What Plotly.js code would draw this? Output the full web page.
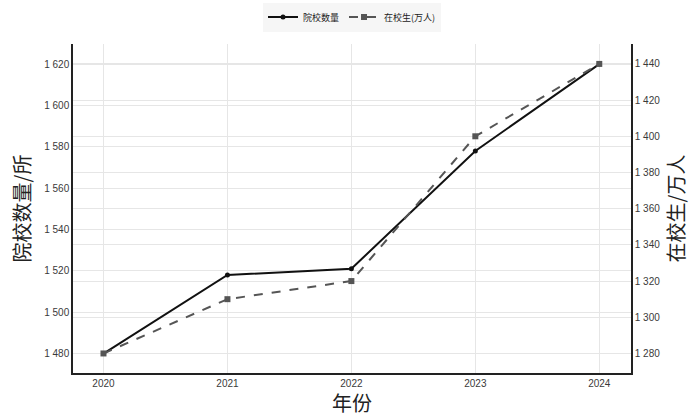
<!DOCTYPE html>
<html>
<head>
<meta charset="utf-8">
<script src="https://cdn.plot.ly/plotly-3.0.1.min.js"></script>
<style>html,body{margin:0;padding:0;background:#fff;}#chart{width:690px;height:417px;}</style>
</head>
<body>
<div id="chart"></div>
<script>
const years = [2020, 2021, 2022, 2023, 2024];
const schools = [1480, 1518, 1521, 1578, 1620];
const students = [1280, 1310, 1320, 1400, 1440];
const schoolName = '院校数量';
const studentName = '在校生(万人)';
const xTitle = '年份';
const y1Title = '院校数量/所';
const y2Title = '在校生/万人';

const tickFont = {family: 'Liberation Sans, Arial, sans-serif', size: 10, color: '#3a3a3a'};
const titleFont = {family: 'Noto Sans CJK SC, sans-serif', size: 20, color: '#222'};

const traces = [
  {x: years, y: schools, name: schoolName, type: 'scatter', mode: 'lines+markers',
   line: {color: '#111', width: 2}, marker: {symbol: 'circle', size: 5, color: '#111'}, yaxis: 'y'},
  {x: years, y: students, name: studentName, type: 'scatter', mode: 'lines+markers',
   line: {color: '#555', width: 2, dash: 'dash'}, marker: {symbol: 'square', size: 6, color: '#555'}, yaxis: 'y2'}
];

const layout = {
  width: 690, height: 417,
  margin: {l: 73, r: 59, t: 44, b: 44, autoexpand: false},
  paper_bgcolor: '#fff', plot_bgcolor: '#fff',
  separators: '. ',
  showlegend: true,
  legend: {orientation: 'h', x: 0.5, xanchor: 'center', y: 1.082, yanchor: 'middle',
           bgcolor: '#f6f6f6', font: {family: 'Noto Sans CJK SC, sans-serif', size: 9, color: '#222'},
           itemwidth: 30, tracegroupgap: 0},
  xaxis: {range: [2019.754, 2024.256], tickvals: years, ticktext: years.map(String),
          showgrid: true, gridcolor: '#e6e6e6', gridwidth: 1, zeroline: false,
          showline: true, linecolor: '#222', linewidth: 1.5, ticks: '',
          tickfont: tickFont,
          title: {text: xTitle, font: titleFont, standoff: 8}},
  yaxis: {range: [1470.6, 1629.7], tickvals: [1480,1500,1520,1540,1560,1580,1600,1620],
          separatethousands: true, tickformat: ',d',
          showgrid: true, gridcolor: '#e6e6e6', zeroline: false,
          showline: true, linecolor: '#222', linewidth: 1.5, ticks: '',
          tickfont: tickFont,
          title: {text: y1Title, font: titleFont, standoff: 8}},
  yaxis2: {range: [1269.2, 1451], tickvals: [1280,1300,1320,1340,1360,1380,1400,1420,1440],
           separatethousands: true, tickformat: ',d',
           overlaying: 'y', side: 'right',
           showgrid: true, gridcolor: '#e6e6e6', zeroline: false,
           showline: true, linecolor: '#222', linewidth: 1.5, ticks: '',
           tickfont: tickFont,
           title: {text: y2Title, font: titleFont, standoff: 12}}
};

Plotly.newPlot('chart', traces, layout, {displayModeBar: false, responsive: false});
</script>
</body>
</html>
